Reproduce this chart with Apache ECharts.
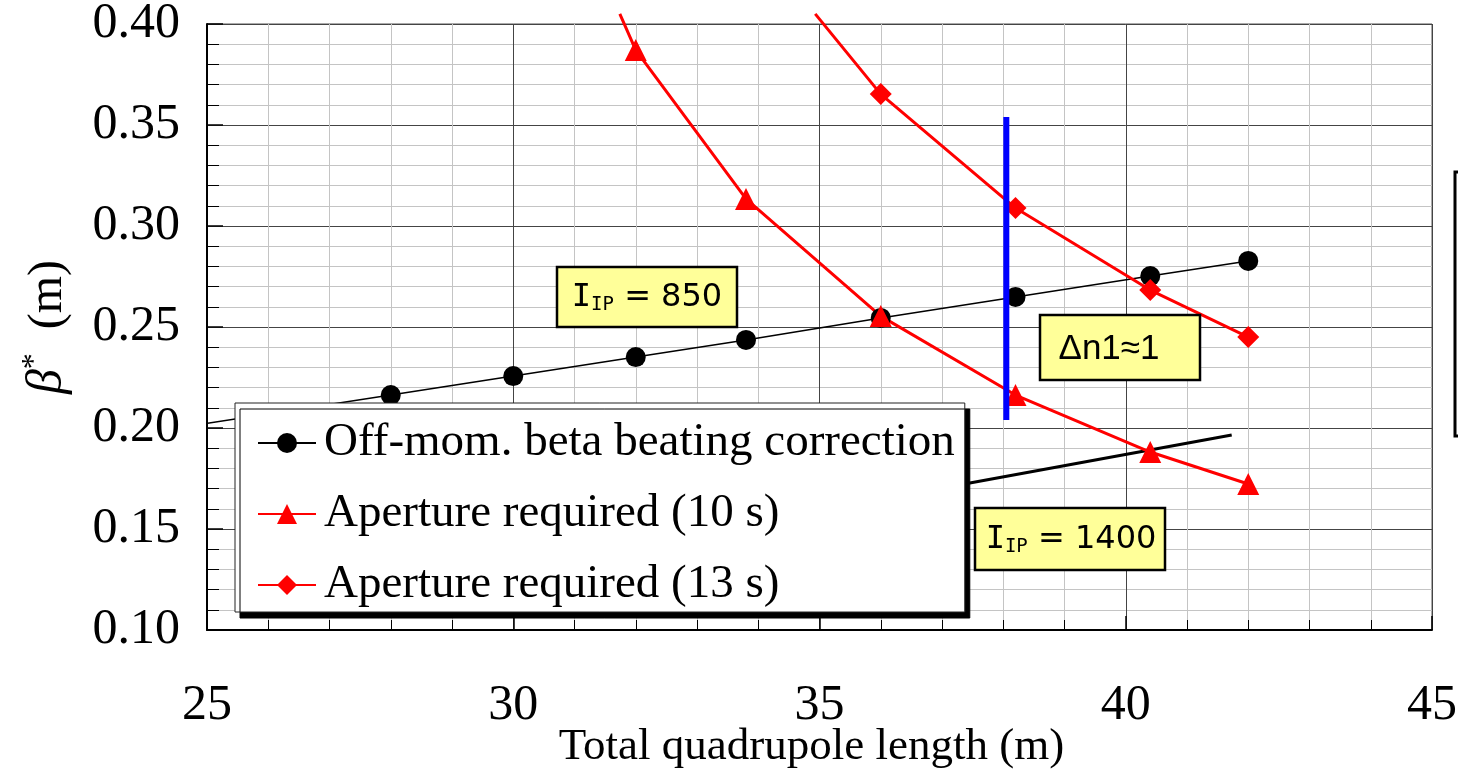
<!DOCTYPE html>
<html><head><meta charset="utf-8">
<script src="https://cdn.jsdelivr.net/npm/echarts@6/dist/echarts.min.js"></script>
<style>html,body{margin:0;padding:0;background:#fff}#c{width:1458px;height:773px}</style>
</head><body><div id="c"></div>
<script>
// ---- data ----
const seriesNames = ['Off-mom. beta beating correction', 'Aperture required (10 s)', 'Aperture required (13 s)'];
// first point of each curve is the line's extension beyond the plotted markers
const offMomX = [24.84, 28, 30, 32, 33.8, 36, 38.2, 40.4, 42];
const offMomY = [0.2015, 0.2163, 0.2257, 0.2351, 0.2436, 0.2545, 0.2649, 0.2752, 0.2827];
const ap10X = [31.74, 32, 33.8, 36, 38.2, 40.4, 42];
const ap10Y = [0.405, 0.3871, 0.3134, 0.2554, 0.2163, 0.1881, 0.1723];
const ap13X = [34.93, 36, 38.2, 40.4, 42];
const ap13Y = [0.405, 0.3653, 0.3089, 0.2683, 0.2450];
const ip1400X = [33, 41.73];
const ip1400Y = [0.148, 0.1965];
const dn1X = [38.05, 38.05];
const dn1Y = [0.354, 0.204];
const xTicks = [25, 30, 35, 40, 45];
const yTicks = [0.10, 0.15, 0.20, 0.25, 0.30, 0.35, 0.40];

function pts(xs, ys, hideFirst) {
  return xs.map((x, i) => {
    const o = { value: [x, ys[i]] };
    if (hideFirst && i === 0) o.symbol = 'none';
    return o;
  });
}

const chart = echarts.init(document.getElementById('c'), null, { renderer: 'canvas' });
const serif = 'Liberation Serif';
const comic = 'DejaVu Sans';
const mono = 'DejaVu Sans Mono';
const boxRich = {
  i: { fontFamily: mono, fontSize: 32, fill: '#000' },
  s: { fontFamily: mono, fontSize: 19, fill: '#000', verticalAlign: 'bottom', padding: [14, 0, 0, 0] },
  a: { fontFamily: comic, fontSize: 32, fill: '#000' }
};

chart.setOption({
  animation: false,
  backgroundColor: '#fff',
  grid: { left: 207, top: 24, width: 1225, height: 606, outerBoundsMode: 'none', containLabel: false, show: true, borderColor: '#555', borderWidth: 1, backgroundColor: 'transparent' },
  xAxis: {
    type: 'value', min: xTicks[0], max: xTicks[xTicks.length - 1], interval: 5,
    axisLine: { lineStyle: { color: '#000', width: 2 } },
    axisTick: { inside: true, length: 14, lineStyle: { color: '#000', width: 1.5 } },
    minorTick: { show: true, splitNumber: 5, length: 10, lineStyle: { color: '#000', width: 1 } },
    splitLine: { show: true, lineStyle: { color: '#444', width: 1 } },
    minorSplitLine: { show: true, lineStyle: { color: '#c4c4c4', width: 1 } },
    axisLabel: { fontFamily: serif, fontSize: 50, color: '#000', margin: 51, formatter: v => String(v) },
    name: 'Total quadrupole length (m)', nameLocation: 'middle', nameGap: 95, nameMoveOverlap: false,
    nameTextStyle: { fontFamily: serif, fontSize: 45, color: '#000', padding: [0, 16, 0, 0] }
  },
  yAxis: {
    type: 'value', min: yTicks[0], max: yTicks[yTicks.length - 1], interval: 0.05,
    axisLine: { lineStyle: { color: '#000', width: 2 } },
    axisTick: { inside: true, length: 16, lineStyle: { color: '#000', width: 1.5 } },
    minorTick: { show: true, splitNumber: 5, length: 12, lineStyle: { color: '#000', width: 1 } },
    splitLine: { show: true, lineStyle: { color: '#444', width: 1 } },
    minorSplitLine: { show: true, lineStyle: { color: '#c4c4c4', width: 1 } },
    axisLabel: { fontFamily: serif, fontSize: 50, color: '#000', margin: 27, formatter: v => v.toFixed(2) },
    name: '{b|β}{s|*}{n|  (m)}', nameLocation: 'middle', nameRotate: 90, nameGap: 130, nameMoveOverlap: false,
    nameTextStyle: {
      fontFamily: serif, fontSize: 48, color: '#000',
      rich: {
        b: { fontFamily: serif, fontStyle: 'italic', fontSize: 50, color: '#000' },
        s: { fontFamily: serif, fontSize: 32, color: '#000', verticalAlign: 'top', padding: [0, 0, 26, 0] },
        n: { fontFamily: serif, fontSize: 48, color: '#000' }
      }
    }
  },
  legend: {
    left: 235, top: 403, orient: 'vertical',
    data: seriesNames,
    backgroundColor: '#fff', borderColor: '#222', borderWidth: 1,
    shadowColor: '#000', shadowBlur: 0, shadowOffsetX: 5, shadowOffsetY: 6,
    padding: [15, 10, 2, 22], itemGap: 21, itemWidth: 58, itemHeight: 25,
    textStyle: { fontFamily: serif, fontSize: 47, color: '#000', lineHeight: 50, padding: [0, 0, 0, 3] }
  },
  series: [
    {
      name: seriesNames[0], type: 'line', clip: false, z: 3,
      data: pts(offMomX, offMomY, true),
      symbol: 'circle', symbolSize: 20,
      lineStyle: { color: '#000', width: 1.5 }, itemStyle: { color: '#000' }
    },
    {
      name: seriesNames[1], type: 'line', clip: false, z: 3,
      data: pts(ap10X, ap10Y, true),
      symbol: 'triangle', symbolSize: 22,
      lineStyle: { color: '#ff0000', width: 3 }, itemStyle: { color: '#ff0000' }
    },
    {
      name: seriesNames[2], type: 'line', clip: false, z: 3,
      data: pts(ap13X, ap13Y, true),
      symbol: 'diamond', symbolSize: 22,
      lineStyle: { color: '#ff0000', width: 3 }, itemStyle: { color: '#ff0000' }
    },
    {
      name: 'IP1400', type: 'line', clip: false, z: 2, symbol: 'none',
      data: pts(ip1400X, ip1400Y, false),
      lineStyle: { color: '#000', width: 3 }
    },
    {
      name: 'dn1', type: 'line', clip: false, z: 4, symbol: 'none',
      data: pts(dn1X, dn1Y, false),
      lineStyle: { color: '#0000ff', width: 6 }
    }
  ],
  graphic: [
    { type: 'rect', z: 100, shape: { x: 557, y: 267, width: 180, height: 60 }, style: { fill: '#ffff99', stroke: '#000', lineWidth: 2.5 } },
    { type: 'text', z: 101, x: 647, y: 298, style: {
        text: '{i|I}{s|IP}{a| = 850}', align: 'center', verticalAlign: 'middle', rich: boxRich } },
    { type: 'rect', z: 100, shape: { x: 1040, y: 315, width: 160, height: 65 }, style: { fill: '#ffff99', stroke: '#000', lineWidth: 2.5 } },
    { type: 'text', z: 101, x: 1109, y: 349, style: { text: 'Δn1≈1', align: 'center', verticalAlign: 'middle', fontFamily: 'Liberation Sans', fontSize: 35, fill: '#000' } },
    { type: 'rect', z: 100, shape: { x: 975, y: 508, width: 190, height: 62 }, style: { fill: '#ffff99', stroke: '#000', lineWidth: 2.5 } },
    { type: 'text', z: 101, x: 1071, y: 540, style: {
        text: '{i|I}{s|IP}{a| = 1400}', align: 'center', verticalAlign: 'middle', rich: boxRich } },
    { type: 'rect', z: 100, shape: { x: 1455, y: 172, width: 20, height: 264 }, style: { fill: '#fff', stroke: '#000', lineWidth: 3 } }
  ]
});
</script>
</body></html>
